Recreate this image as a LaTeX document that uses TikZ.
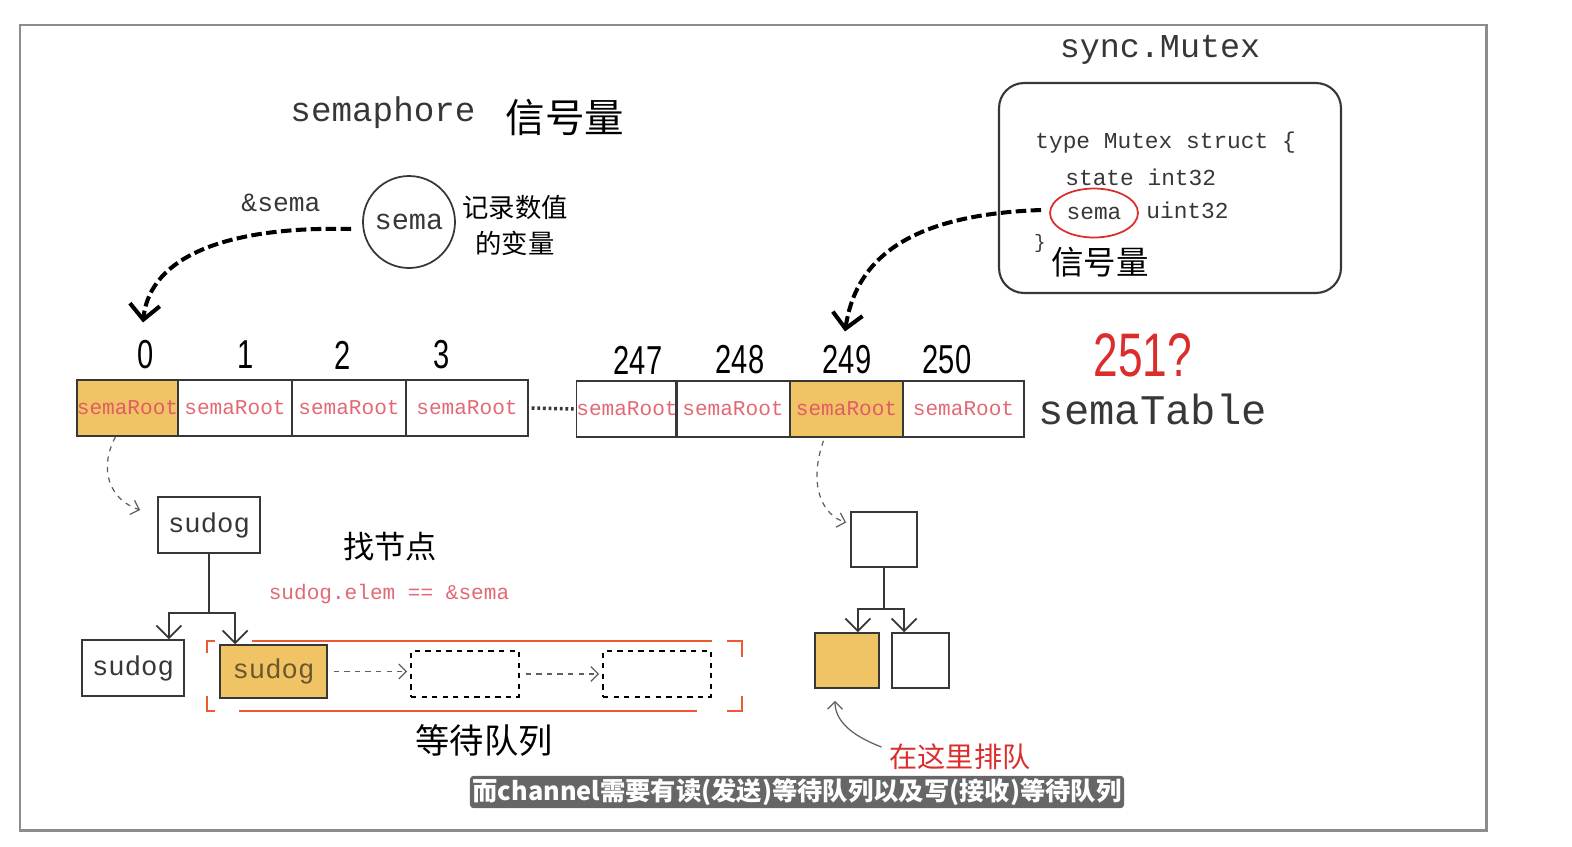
\documentclass[tikz,border=0pt]{standalone}
\usepackage{fontspec}
\setmainfont{Liberation Mono}
\newfontfamily\cjk{Noto Sans CJK SC}
\newfontfamily\digitfont{Liberation Sans}[FakeStretch=0.72]
\usetikzlibrary{arrows.meta,positioning,shapes.geometric,calc}
\definecolor{smorange}{RGB}{240,195,100}
\definecolor{smpink}{RGB}{226,105,115}
\definecolor{smred}{RGB}{220,45,45}
\definecolor{smbracket}{RGB}{235,90,50}
\definecolor{smgray}{RGB}{140,140,140}
\definecolor{smink}{RGB}{55,55,55}
\newcommand\fsz[1]{\fontsize{#1}{#1}\selectfont}

\begin{document}
\begin{tikzpicture}[x=0.02cm,y=-0.02cm,
  cell/.style={draw=smink,line width=0.8pt,minimum height=1.12cm,inner sep=0pt,text=smpink,font=\fsz{12pt}},
  idx/.style={text=black,font=\digitfont\fsz{23pt}},
  box/.style={draw=smink,line width=1pt,inner sep=0pt,text=smink,font=\fsz{15.5pt}},
  dbox/.style={draw=black,dashed,line width=1pt,minimum width=2.16cm,minimum height=0.92cm},
  bigarrow/.style={line width=2.3pt,dash pattern=on 6pt off 2.5pt,-{Straight Barb[length=3mm,width=6mm]}},
  hintarrow/.style={smink!80,dashed,line width=0.7pt,-{Straight Barb[length=1.5mm,width=3mm]}},
  treeline/.style={smink,line width=1pt},
  treearrow/.style={treeline,-{Straight Barb[length=2.5mm,width=5mm]}}]
  \useasboundingbox (0,0) rectangle (1572,846);
  % Frame
  \draw[smgray,line width=1.7pt] (20,25) rectangle (1486,830);
  % Title and the sema variable
  \node[text=smink,font=\fsz{19.5pt}] (title) at (383,113) {semaphore};
  \node[font=\cjk\fsz{22.5pt}] (titlecn) at (565,118) {信号量};
  \node[circle,draw=smink,line width=1pt,minimum size=1.84cm,inner sep=0pt,text=smink,font=\fsz{16.3pt}] (sema) at (409,222) {sema};
  \node[text=smink,font=\fsz{15pt}] (addr) at (281,203) {\&sema};
  \node[align=center,font=\cjk\fontsize{15pt}{20.5pt}\selectfont] (semanote) at (515,225) {记录数值\\的变量};
  % semaTable cells
  \node[cell,fill=smorange,text=smpink!80!smred,minimum width=2.02cm] (c0) at (127.5,408) {semaRoot};
  \node[cell,minimum width=2.28cm] (c1) at (235,408) {semaRoot};
  \node[cell,minimum width=2.28cm] (c2) at (349,408) {semaRoot};
  \node[cell,minimum width=2.44cm] (c3) at (467,408) {semaRoot};
  \node[cell,minimum width=1.96cm] (c247) at (627,409) {semaRoot};
  \node[cell,minimum width=2.28cm] (c248) at (733,409) {semaRoot};
  \node[cell,fill=smorange,text=smpink!80!smred,minimum width=2.26cm] (c249) at (846.5,409) {semaRoot};
  \node[cell,minimum width=2.42cm] (c250) at (963.5,409) {semaRoot};
  \draw[smink,line width=2pt,dash pattern=on 1.6pt off 1.6pt,shorten <=0.06cm,shorten >=0.04cm] (c3.east) -- (c247.west);
  \node[text=smink,font=\fsz{24pt},right=0.16cm of c250] (table) {semaTable};
  % Indexes
  \node[idx] (i0) at (146,355) {0};
  \node[idx] (i1) at (246,355) {1};
  \node[idx] (i2) at (343,355) {2};
  \node[idx] (i3) at (442,355) {3};
  \node[idx] (i247) at (638,360) {247};
  \node[idx] (i248) at (740,360) {248};
  \node[idx] (i249) at (847,360) {249};
  \node[idx] (i250) at (947,360) {250};
  \node[text=smred,font=\digitfont\fsz{35pt}] (more) at (1143,355) {251?};
  % sync.Mutex
  \node[text=smink,font=\fsz{19pt}] (mutexname) at (1160,50) {sync.Mutex};
  \node[draw=smink,line width=1.2pt,rounded corners=0.5cm,minimum width=6.84cm,minimum height=4.2cm] (mutex) at (1170,188) {};
  \node[anchor=west,inner sep=0pt,text=smink,font=\fsz{13pt}] (l1) at (1035,143) {type Mutex struct \{};
  \node[anchor=west,inner sep=0pt,text=smink,font=\fsz{13pt}] (l2) at (1065,177) {state int32};
  \node[ellipse,draw=smred,line width=1pt,minimum width=1.76cm,minimum height=0.98cm,inner sep=0pt,text=smink,font=\fsz{13pt}] (field) at (1094,213) {sema};
  \node[anchor=west,inner sep=0pt,text=smink,font=\fsz{13pt}] (l3) at (1146,210) {uint32};
  \node[text=smink,font=\fsz{11pt}] (l4) at (1040,243) {\}};
  \node[font=\cjk\fsz{18.5pt}] (l5) at (1100,262) {信号量};
  % Big dashed arrows
  \draw[bigarrow] ($(sema.west)+(-11,7)$) .. controls (230,226) and (150,255) .. ($(i0.north)+(-3,-12)$);
  \draw[bigarrow] ($(field.west)+(-8,-3)$) .. controls (900,215) and (855,265) .. ($(i249.north)+(-2,-8)$);
  % Left tree
  \node[box,minimum width=2.04cm,minimum height=1.12cm] (s1) at (209,525) {sudog};
  \node[box,minimum width=2.04cm,minimum height=1.12cm] (q0) at (133,668) {sudog};
  \node[box,fill=smorange,text=black!55!smorange,minimum width=2.14cm,minimum height=1.06cm] (qs) at (273.5,671.5) {sudog};
  \node[dbox] (d1) at (465,674) {};
  \node[dbox] (d2) at (657,674) {};
  \draw[hintarrow] ($(c0.south)+(-12,0)$) .. controls (98,470) and (110,500) .. ($(s1.west)+(-17,-15)$);
  \draw[treeline] (s1.south) -- ++(0,59) coordinate (s1fork);
  \draw[treearrow] (s1fork) -| ($(q0.north east)+(-16,0)$);
  \draw[treearrow] (s1fork) -| ($(qs.north west)+(16,0)$);
  \draw[hintarrow,shorten <=0.12cm,shorten >=0.06cm] (qs.east) -- (qs.east -| d1.west);
  \draw[hintarrow,shorten <=0.12cm,shorten >=0.06cm] (d1.east) -- (d2.west);
  \draw[smbracket,line width=1.5pt]
    (215,641) -| (207,653) (207,696) |- (215,711)
    (252,641) -- (712,641) (239,711) -- (697,711)
    (727,641) -| (742,657) (742,696) |- (727,711);
  \node[font=\cjk\fsz{17.8pt}] (find) at (390,547) {找节点};
  \node[text=smpink,font=\fsz{12pt}] (cond) at (389,594) {sudog.elem == \&sema};
  \node[font=\cjk\fsz{19.5pt}] (queue) at (484,740) {等待队列};
  % Right tree
  \node[box,minimum width=1.32cm,minimum height=1.1cm] (r1) at (884,539.5) {};
  \node[box,fill=smorange,minimum width=1.28cm,minimum height=1.1cm] (ro) at (847,660.5) {};
  \node[box,minimum width=1.14cm,minimum height=1.1cm] (rw) at (920.5,660.5) {};
  \draw[hintarrow] ($(c249.south)+(-23,3)$) .. controls (808,485) and (822,515) .. ($(r1.west)+(-4,-17)$);
  \draw[treeline] (r1.south) -- ++(0,41) coordinate (r1fork);
  \draw[treearrow] (r1fork) -| ($(ro.north east)+(-22,0)$);
  \draw[treearrow] (r1fork) -| ($(rw.north west)+(13,0)$);
  \node[text=smred,font=\cjk\fsz{16pt}] (here) at (960,757) {在这里排队};
  \draw[smink!80,line width=0.7pt,-{Straight Barb[length=1.5mm,width=3mm]}] ($(here.west)+(-2,-10)$) .. controls (850,735) and (835,720) .. ($(ro.south)+(-12,12)$);
  % Caption
  \node[fill=black!60,text=white,rounded corners=2pt,inner sep=1.5pt,font=\cjk\bfseries\fsz{14.4pt}] (caption) at (797,792) {而channel需要有读(发送)等待队列以及写(接收)等待队列};
\end{tikzpicture}
\end{document}
